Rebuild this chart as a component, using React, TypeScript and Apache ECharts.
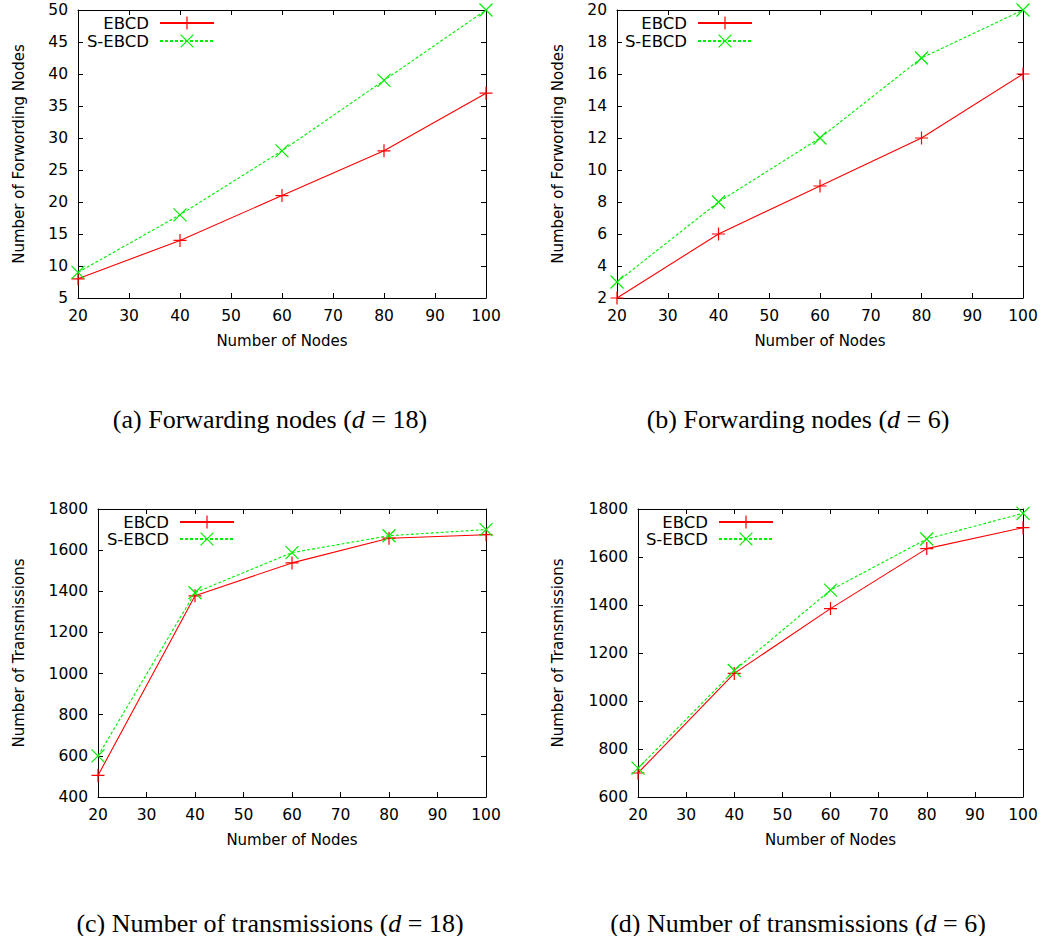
import React, { useEffect, useRef } from "react";
import * as echarts from "echarts";

// ---- data ----
const nodes = [20, 40, 60, 80, 100];
const seriesNames = ["EBCD", "S-EBCD"];

const fwdD18Ebcd = [8, 14, 21, 28, 37];
const fwdD18Sebcd = [9, 18, 28, 39, 50];
const fwdD6Ebcd = [2, 6, 9, 12, 16];
const fwdD6Sebcd = [3, 8, 12, 17, 20];
const txD18Ebcd = [505, 1378, 1538, 1658, 1675];
const txD18Sebcd = [600, 1393, 1588, 1670, 1700];
const txD6Ebcd = [700, 1115, 1385, 1635, 1722];
const txD6Sebcd = [720, 1127, 1462, 1675, 1782];

const xName = "Number of Nodes";
const yNameFwd = "Number of Forwording Nodes";
const yNameTx = "Number of Transmissions";
const captions = [
  "(a) Forwarding nodes ({i|d} = 18)",
  "(b) Forwarding nodes ({i|d} = 6)",
  "(c) Number of transmissions ({i|d} = 18)",
  "(d) Number of transmissions ({i|d} = 6)",
];

// ---- layout ----
const panels = [
  { grid: { left: 78, top: 10, width: 408, height: 288 }, yName: yNameFwd, yMin: 5, yMax: 50, yInt: 5, a: fwdD18Ebcd, b: fwdD18Sebcd, yGap: 52, legRight: 831, legTop: 14, legGap: 0, capX: 270, capY: 419 },
  { grid: { left: 617, top: 10, width: 406, height: 288 }, yName: yNameFwd, yMin: 2, yMax: 20, yInt: 2, a: fwdD6Ebcd, b: fwdD6Sebcd, yGap: 52, legRight: 293, legTop: 14, legGap: 0, capX: 798, capY: 419 },
  { grid: { left: 98, top: 509, width: 388, height: 288 }, yName: yNameTx, yMin: 400, yMax: 1800, yInt: 200, a: txD18Ebcd, b: txD18Sebcd, yGap: 72, legRight: 811, legTop: 513, legGap: -1, capX: 270, capY: 923 },
  { grid: { left: 638, top: 509, width: 385, height: 288 }, yName: yNameTx, yMin: 600, yMax: 1800, yInt: 200, a: txD6Ebcd, b: txD6Sebcd, yGap: 73, legRight: 272, legTop: 513, legGap: -1, capX: 798, capY: 923 },
];

const PLUS = "path://M0,5L10,5M5,0L5,10";
const CROSS = "path://M0,0L10,10M0,10L10,0";
const RED = "#ff0000";
const GREEN = "#00ee00";
const SANS = "DejaVu Sans";

export default function App() {
  const ref = useRef<HTMLDivElement>(null);

  useEffect(() => {
    document.body.style.margin = "0";
    if (!ref.current) return;
    const chart = echarts.init(ref.current, null, { renderer: "svg" });

    const axisLine = { show: true, onZero: false, lineStyle: { color: "#000", width: 1 } };
    const axisTick = { show: true, inside: true, length: 5, lineStyle: { color: "#000", width: 1 } };
    const labelStyle = { color: "#000", fontFamily: SANS, fontSize: 15.5, formatter: (v: number) => String(v) };
    const nameStyle = { color: "#000", fontFamily: SANS, fontSize: 15 };

    const xAxis: any[] = [];
    const yAxis: any[] = [];
    const series: any[] = [];
    const legend: any[] = [];
    const graphic: any[] = [];

    panels.forEach((p, i) => {
      xAxis.push({
        type: "value", gridIndex: i, min: 20, max: 100, interval: 10, position: "bottom",
        axisLine, axisTick, splitLine: { show: false },
        axisLabel: { ...labelStyle, margin: 10 },
        name: xName, nameLocation: "middle", nameGap: 35, nameTextStyle: nameStyle,
      });
      yAxis.push({
        type: "value", gridIndex: i, min: p.yMin, max: p.yMax, interval: p.yInt, position: "left",
        axisLine, axisTick, splitLine: { show: false },
        axisLabel: { ...labelStyle, margin: 10 },
        name: p.yName, nameLocation: "middle", nameGap: p.yGap, nameTextStyle: nameStyle,
      });
    });
    panels.forEach((p, i) => {
      xAxis.push({
        type: "value", gridIndex: i, min: 20, max: 100, interval: 10, position: "top",
        axisLine, axisTick, splitLine: { show: false }, axisLabel: { show: false },
      });
      yAxis.push({
        type: "value", gridIndex: i, min: p.yMin, max: p.yMax, interval: p.yInt, position: "right",
        axisLine, axisTick, splitLine: { show: false }, axisLabel: { show: false },
      });
    });

    panels.forEach((p, i) => {
      series.push({
        type: "line", name: seriesNames[0], xAxisIndex: i, yAxisIndex: i,
        data: nodes.map((x, k) => [x, p.a[k]]),
        symbol: PLUS, symbolSize: 13, showSymbol: true, clip: false,
        lineStyle: { color: RED, width: 1.1, type: "solid" },
        itemStyle: { color: RED, borderColor: RED, borderWidth: 1.2 },
        emphasis: { disabled: true },
      });
      series.push({
        type: "line", name: seriesNames[1], xAxisIndex: i, yAxisIndex: i,
        data: nodes.map((x, k) => [x, p.b[k]]),
        symbol: CROSS, symbolSize: 13, showSymbol: true, clip: false,
        lineStyle: { color: GREEN, width: 1.1, type: [3, 2] },
        itemStyle: { color: GREEN, borderColor: GREEN, borderWidth: 1.2 },
        emphasis: { disabled: true },
      });
      legend.push({
        orient: "vertical", align: "right", right: p.legRight, top: p.legTop,
        padding: 0, itemGap: p.legGap, itemWidth: 54, itemHeight: 16,
        textStyle: { color: "#000", fontFamily: SANS, fontSize: 16.5, lineHeight: 18, padding: [0, 6, 0, 0] },
        itemStyle: { borderWidth: 1.2 },
        data: seriesNames,
        selectedMode: false,
      });
      graphic.push({
        type: "text", x: p.capX, y: p.capY,
        style: {
          text: captions[i], fill: "#000", fontFamily: "Liberation Serif", fontSize: 26,
          align: "center", verticalAlign: "middle",
          rich: { i: { fontStyle: "italic", fontFamily: "Liberation Serif", fontSize: 26, fill: "#000" } },
        },
      });
    });

    chart.setOption({
      animation: false,
      backgroundColor: "#fff",
      textStyle: { fontFamily: SANS },
      grid: panels.map((p) => ({ ...p.grid, containLabel: false })),
      xAxis, yAxis, series, legend, graphic,
    });

    return () => chart.dispose();
  }, []);

  return <div ref={ref} style={{ width: 1046, height: 936 }} />;
}
